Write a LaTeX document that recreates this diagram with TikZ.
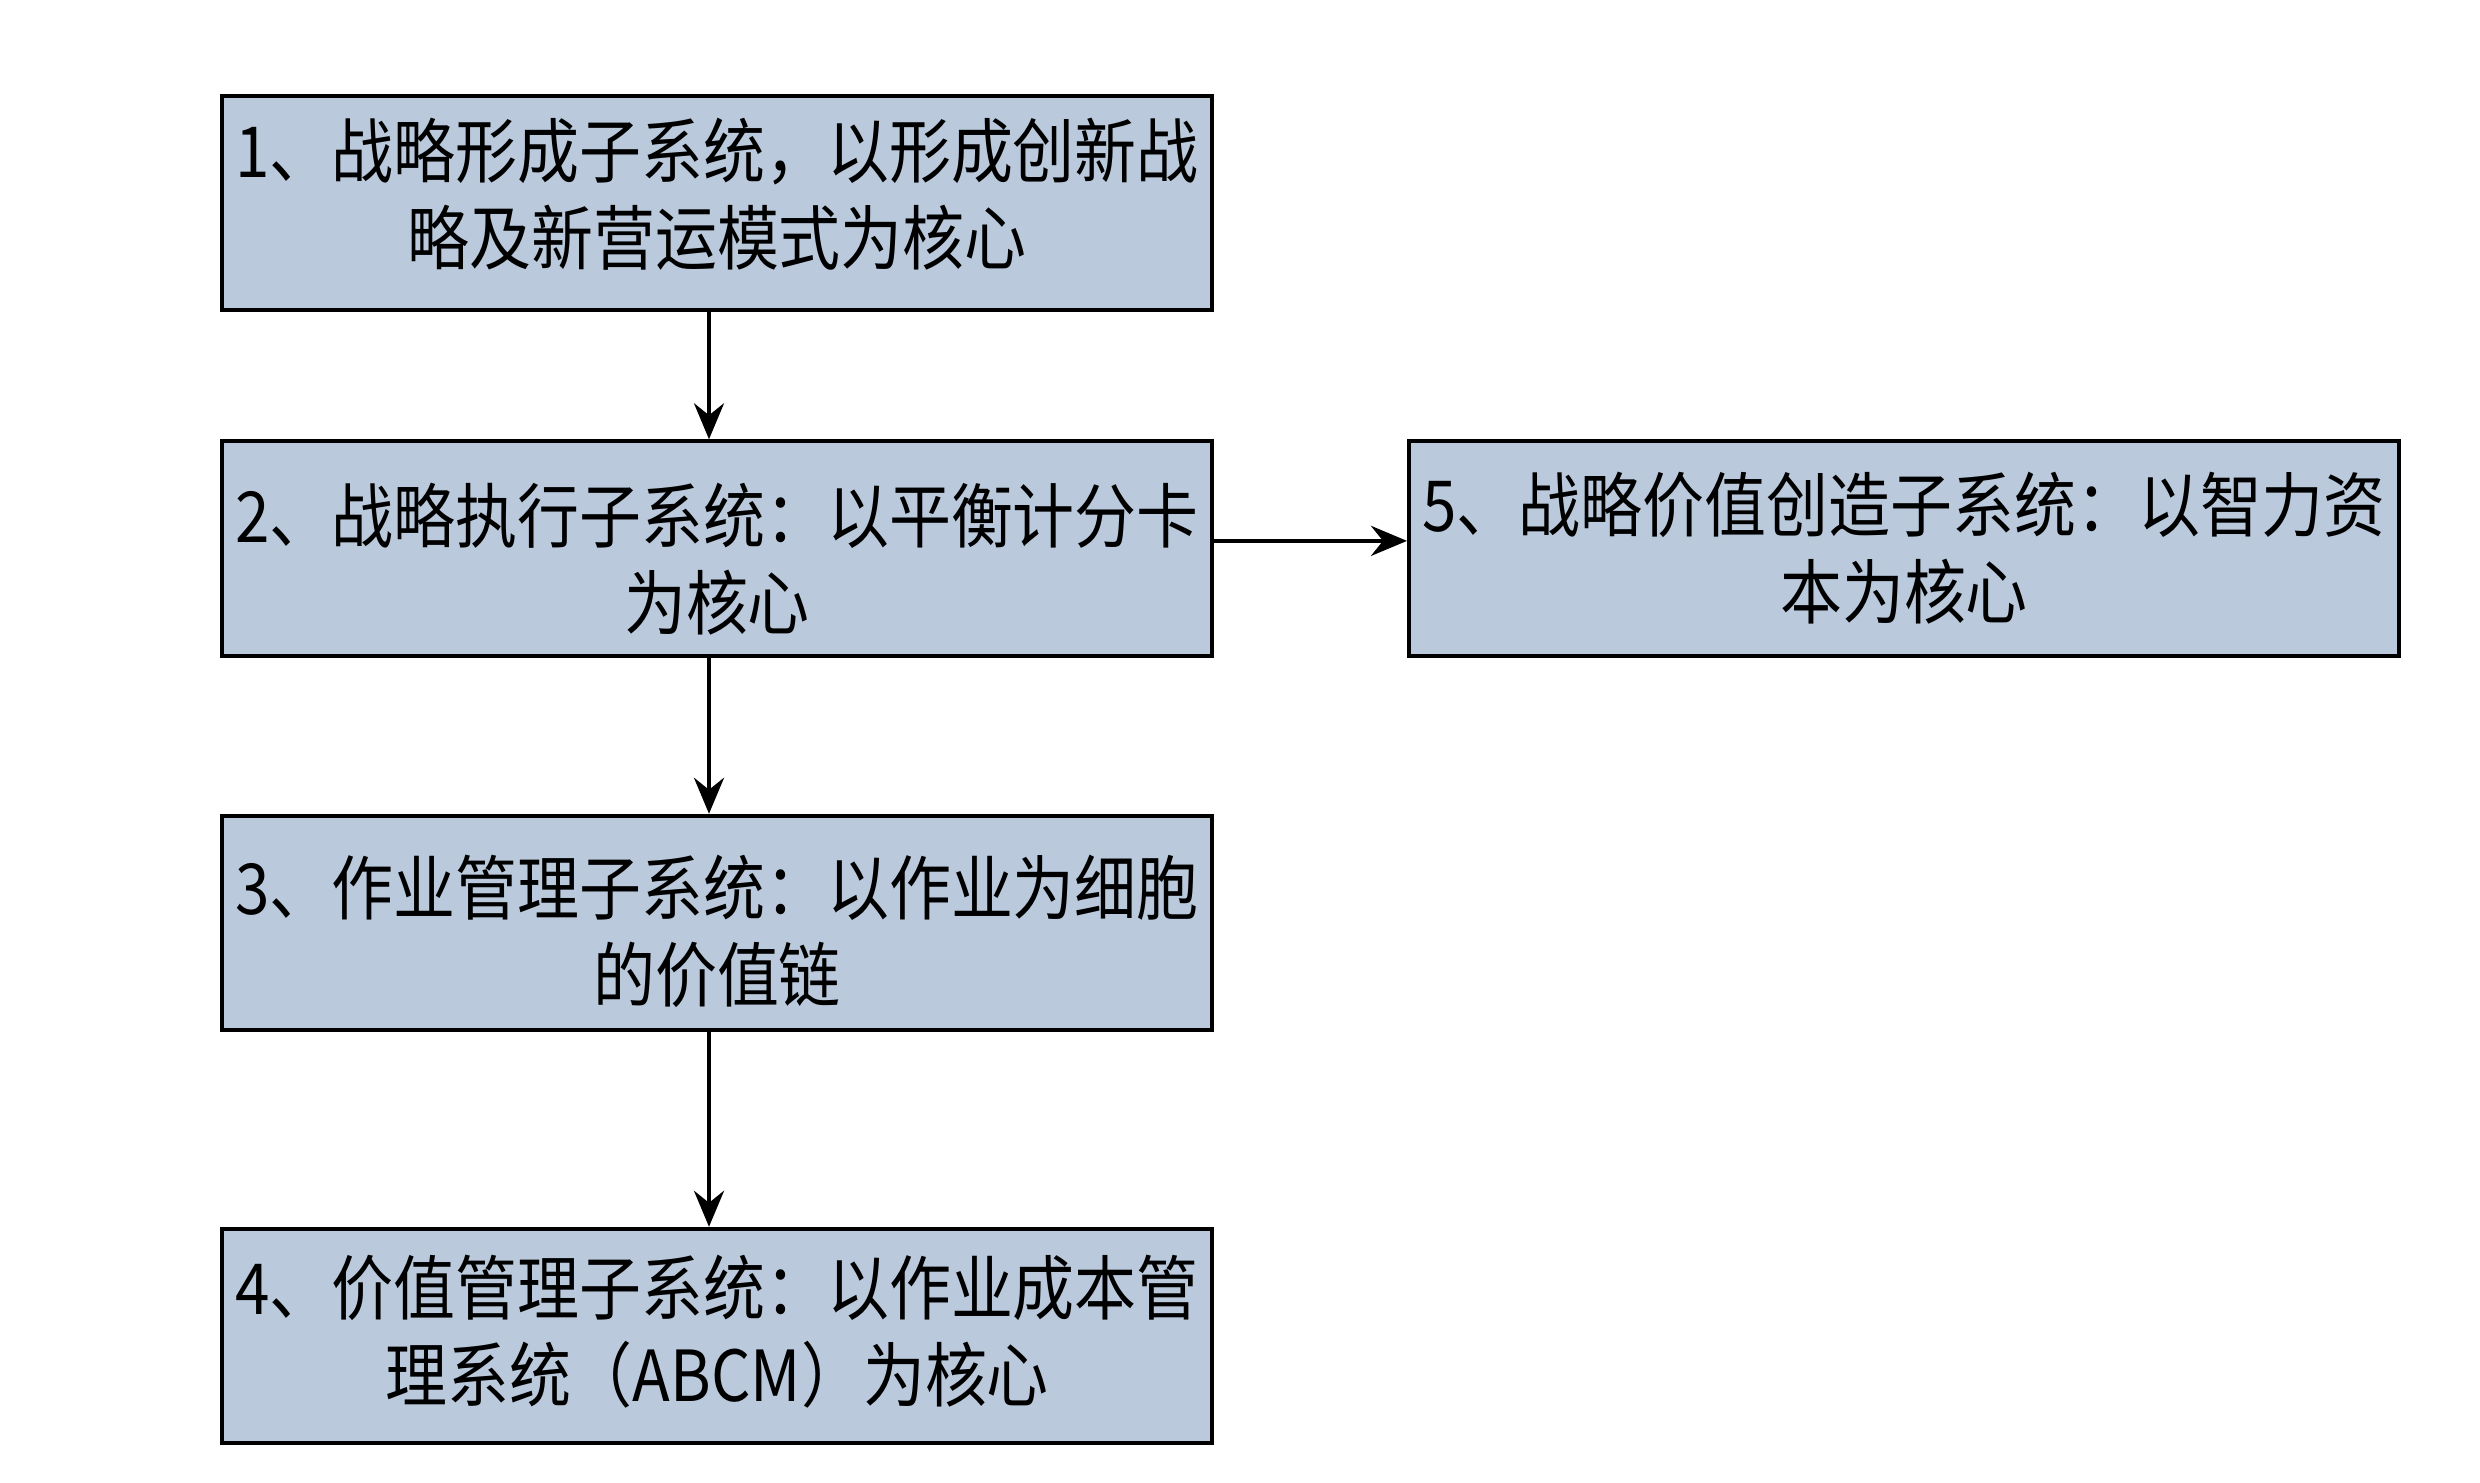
\documentclass[tikz,border=0pt]{standalone}
\usepackage{fontspec}
\setmainfont[FakeStretch=0.88]{Noto Sans CJK SC}
\usetikzlibrary{arrows.meta}
\definecolor{boxfill}{RGB}{186,202,220}
\tikzset{
  sysbox/.style={draw=black, line width=1pt, fill=boxfill, rectangle,
    minimum width=247.5pt, minimum height=53.6pt, inner sep=0pt},
  boxtext/.style={inner sep=0pt, align=center,
    font=\fontsize{17.6pt}{21.75pt}\selectfont},
  arr/.style={draw=black, line width=1.1pt, -{Stealth[length=9pt, width=7.5pt, inset=3pt]}}
}
\begin{document}
\begin{tikzpicture}[x=0.25pt, y=-0.25pt]
\useasboundingbox (0,0) rectangle (2480,1483);
\node[sysbox] (b1) at (717,203) {};
\node[sysbox] (b2) at (717,548.5) {};
\node[sysbox] (b3) at (717,923) {};
\node[sysbox] (b4) at (717,1336) {};
\node[sysbox] (b5) at (1904,548.5) {};
\node[boxtext] (t1) at ([yshift=2.2pt]b1.center) {1、战略形成子系统，以形成创新战\\略及新营运模式为核心};
\node[boxtext] (t2) at ([yshift=-2.6pt]b2.center) {2、战略执行子系统：以平衡计分卡\\为核心};
\node[boxtext] (t3) at ([yshift=-2pt]b3.center) {3、作业管理子系统：以作业为细胞\\的价值链};
\node[boxtext] (t4) at ([yshift=1.2pt]b4.center) {4、价值管理子系统：以作业成本管\\理系统（ABCM）为核心};
\node[boxtext] (t5) at (b5.center) {5、战略价值创造子系统：以智力资\\本为核心};
\draw[arr] ([xshift=-2pt]b1.south) -- ([xshift=-2pt]b2.north);
\draw[arr] ([xshift=-2pt]b2.south) -- ([xshift=-2pt]b3.north);
\draw[arr] ([xshift=-2pt]b3.south) -- ([xshift=-2pt]b4.north);
\draw[arr] ([yshift=1.9pt]b2.east) -- ([yshift=1.9pt]b5.west);
\end{tikzpicture}
\end{document}
